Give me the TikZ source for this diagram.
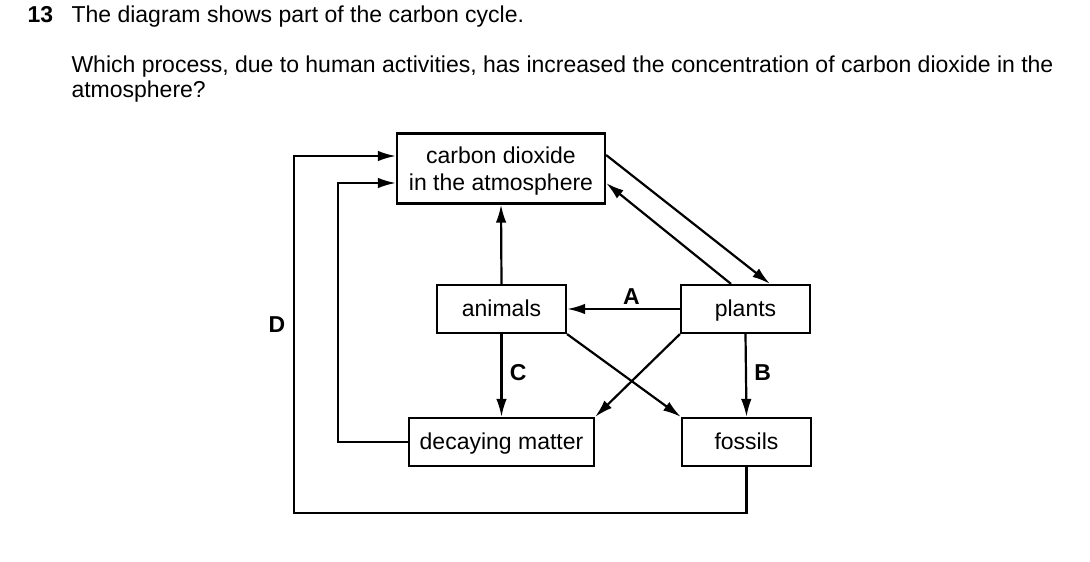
\documentclass[tikz,border=0pt]{standalone}
\usepackage{fontspec}
\setmainfont{Liberation Sans}
\usetikzlibrary{arrows.meta}
\begin{document}
\begin{tikzpicture}[x=1pt,y=-1pt,
    txt/.style={font=\fontsize{23}{27}\selectfont},
    box/.style={draw,line width=2.2pt,txt,inner sep=0pt,align=center,text height=18pt,text depth=3pt},
    lbl/.style={font=\fontsize{23}{27}\selectfont\bfseries},
    arr/.style={line width=2.2pt,-{Latex[length=18pt,width=10.5pt]}},
    ln/.style={line width=2.2pt}]
                    \useasboundingbox (0,0) rectangle (1090,562);
                    \node[lbl,anchor=base west] (qnum) at (24,22) {13};
                    \node[txt,anchor=base west] (qline) at (68,22) {The diagram shows part of the carbon cycle.};
                    \node[txt,anchor=base west] (qask) at (68,72) {Which process, due to human activities, has increased the concentration of carbon dioxide in the};
                    \node[txt,anchor=base west] (qask2) at (68,97) {atmosphere?};

                    \node[box,minimum width=208pt,minimum height=70pt,
                          label={[txt,align=center,yshift=-3pt]center:carbon dioxide\\in the atmosphere}] (co2) at (501,168.5) {};
                    \node[box,minimum width=129pt,minimum height=48pt] (animals) at (501.5,309) {animals};
                    \node[box,minimum width=129pt,minimum height=48pt] (plants) at (745.5,309) {plants};
                    \node[box,minimum width=185pt,minimum height=48pt] (decay) at (501.5,442) {decaying matter};
                    \node[box,minimum width=129pt,minimum height=48pt] (fossils) at (746.5,442) {fossils};

                    \coordinate (dturn) at (294,513);
                    \coordinate (eturn) at (338,442);
                    \node[lbl] (dlab) at (277,325) {D};

                    \draw[arr] (fossils.south) |- (dturn) |- ([yshift=12.5pt]co2.west);
                    \draw[arr] (decay.west) -- (eturn) |- ([yshift=-14.5pt]co2.west);
                    \draw[arr] (animals.north) -- (co2.south);
                    \draw[arr] ([yshift=13.5pt]co2.east) -- ([xshift=24.5pt]plants.north);
                    \draw[arr] ([xshift=-14.5pt]plants.north) -- ([yshift=-14.5pt]co2.east);
                    \draw[arr] (plants.west) -- node[lbl,pos=0.43,above] (alab) {A} (animals.east);
                    \draw[arr] (animals.south) -- node[lbl,pos=0.46,right,xshift=4pt] (clab) {C} (decay.north);
                    \draw[arr] (plants.south) -- node[lbl,pos=0.46,right,xshift=4pt] (blab) {B} (fossils.north);
                    \draw[arr] (animals.south east) -- (fossils.north west);
                    \draw[arr] (plants.south west) -- (decay.north east);
                \end{tikzpicture}
\end{document}
